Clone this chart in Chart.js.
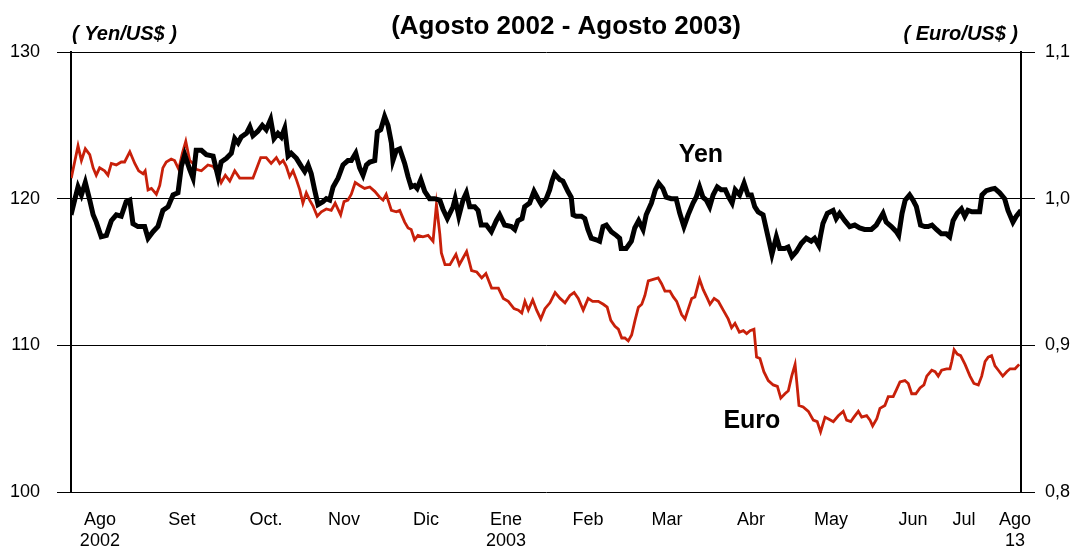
<!DOCTYPE html>
<html>
<head>
<meta charset="utf-8">
<script src="https://cdn.jsdelivr.net/npm/chart.js@4.4.1/dist/chart.umd.min.js"></script>
<style>
  body { margin: 0; background: #fff; }
  canvas { display: block; }
</style>
</head>
<body>
<canvas id="myChart" width="1078" height="550"></canvas>
<script>
// day offsets from 13 Aug 2002
const titleText = "(Agosto 2002 - Agosto 2003)";
const tickDays = [11.1, 42.6, 74.9, 104.9, 136.4, 167.1, 198.6, 229.0, 261.3, 292.0, 323.5, 343.1, 362.7];
const tickLabels = [["Ago", "2002"], "Set", "Oct.", "Nov", "Dic", ["Ene", "2003"], "Feb", "Mar", "Abr", "May", "Jun", "Jul", ["Ago", "13"]];

// Yen per US$ : [day, value]
const yenSeries = [
  [0,118.9],[1.4,119.9],[2.7,120.8],[4.0,120.25],[5.5,121.1],[7.2,119.9],[8.5,118.9],[9.7,118.4],[11.6,117.4],[13.6,117.5],
  [15.5,118.5],[17.4,118.9],[19.3,118.8],[21.2,119.8],[22.6,119.9],[23.8,118.3],[25.7,118.1],[28.3,118.1],[29.6,117.3],[31.5,117.75],
  [33.4,118.1],[35.3,119.2],[37.3,119.45],[39.2,120.25],[41.1,120.4],[42.4,122.2],[43.7,123.0],[45.6,122.0],[46.9,121.4],[48.1,123.3],
  [50.1,123.3],[52.0,123.0],[54.6,122.9],[56.5,121.5],[57.7,122.5],[59.7,122.75],[61.6,123.1],[62.9,124.1],[64.2,123.8],[65.4,124.2],
  [67.4,124.45],[68.7,124.9],[69.9,124.3],[71.8,124.6],[73.5,125.0],[75.0,124.7],[76.7,125.4],[78.0,124.1],[79.5,124.45],[80.8,124.2],
  [82.1,124.8],[83.4,122.9],[84.6,123.1],[86.6,122.75],[88.5,122.2],[89.8,121.85],[91.1,122.3],[92.3,121.7],[93.6,120.6],[94.9,119.6],
  [96.8,119.8],[98.1,120.0],[99.4,119.9],[100.7,120.8],[102.6,121.4],[104.5,122.3],[106.4,122.6],[107.7,122.6],[109.4,123.1],[110.9,122.1],
  [112.2,121.6],[113.5,122.3],[114.8,122.5],[116.7,122.6],[117.7,124.55],[119.0,124.7],[120.5,125.6],[121.8,125.0],[123.1,123.8],[123.7,122.6],
  [125.0,123.3],[126.3,123.4],[128.2,122.4],[129.5,121.5],[130.7,120.8],[132.0,120.9],[133.0,120.7],[134.4,121.3],[135.9,120.5],[137.8,120.0],
  [139.7,120.0],[141.7,119.9],[142.9,119.3],[144.6,118.65],[146.8,119.45],[147.6,120.0],[149.0,118.8],[150.6,119.9],[151.9,120.4],[153.2,119.45],
  [155.1,119.45],[156.4,119.2],[157.6,118.2],[159.6,118.2],[161.5,117.75],[163.4,118.5],[164.7,118.9],[166.6,118.2],[169.2,118.1],[170.5,117.9],
  [171.7,118.5],[173.3,118.65],[174.3,119.45],[176.2,119.7],[177.9,120.5],[179.4,120.0],[180.7,119.6],[182.6,120.0],[183.9,120.6],[184.8,121.2],
  [185.8,121.7],[187.8,121.3],[189.0,121.2],[190.9,120.5],[192.2,120.1],[192.9,118.9],[194.1,118.8],[196.1,118.8],[197.4,118.65],[198.6,117.9],
  [199.9,117.3],[201.8,117.2],[203.1,117.1],[204.4,118.1],[205.7,118.2],[207.6,117.75],[209.5,117.5],[210.8,117.3],[211.4,116.6],[213.3,116.6],
  [215.3,117.1],[216.6,118.0],[218.1,118.5],[219.8,117.9],[221.0,118.9],[223.0,119.7],[224.5,120.6],[225.8,121.05],[227.4,120.7],[228.7,120.1],
  [230.6,120.0],[232.5,120.0],[233.9,119.0],[235.5,118.1],[237.1,118.9],[239.0,119.7],[240.2,120.1],[241.5,120.8],[242.8,120.1],[244.1,119.9],
  [245.4,119.45],[246.7,120.25],[248.3,120.8],[249.8,120.6],[251.4,120.6],[252.7,120.1],[254.0,119.7],[255.2,120.6],[256.9,120.25],[258.6,121.05],
  [260.1,120.25],[261.4,120.25],[262.7,119.45],[264.0,119.1],[265.9,118.9],[267.8,117.4],[269.3,116.2],[271.0,117.4],[272.3,116.6],[274.2,116.6],
  [275.5,116.7],[277.0,116.05],[278.7,116.4],[280.6,116.95],[282.5,117.3],[284.4,117.1],[285.7,117.3],[287.3,116.8],[288.0,117.5],[288.9,118.3],
  [290.6,119.0],[292.8,119.2],[294.0,118.65],[295.3,119.0],[297.3,118.5],[299.2,118.1],[301.1,118.2],[303.0,118.0],[304.9,117.9],[307.5,117.9],
  [309.4,118.2],[312.0,119.0],[313.2,118.4],[315.2,118.1],[317.1,117.75],[318.0,117.5],[319.3,119.0],[320.5,119.9],[322.2,120.25],[323.5,119.9],
  [324.8,119.45],[326.4,118.2],[328.0,118.1],[329.3,118.1],[330.8,118.2],[332.5,117.9],[334.4,117.6],[336.3,117.6],[337.6,117.4],[338.9,118.5],
  [340.5,119.0],[342.1,119.3],[343.4,118.8],[344.6,119.2],[346.2,119.1],[347.8,119.1],[349.1,119.1],[350.0,120.25],[351.7,120.55],[353.6,120.65],
  [354.9,120.7],[356.8,120.4],[358.7,120.0],[360.0,119.2],[361.9,118.4],[363.2,118.8],[365.0,119.2]
];

// Euro per US$ : [day, value]
const euroSeries = [
  [0.1,1.014],[1.4,1.025],[2.7,1.036],[4.0,1.026],[5.5,1.034],[7.2,1.030],[8.5,1.021],[9.7,1.016],[11.0,1.021],[12.9,1.019],
  [14.2,1.016],[15.5,1.024],[17.4,1.023],[19.3,1.025],[20.6,1.025],[22.6,1.032],[24.5,1.024],[26.0,1.019],[27.7,1.017],[28.5,1.019],
  [29.6,1.006],[30.9,1.007],[32.8,1.003],[34.1,1.009],[35.3,1.021],[36.6,1.025],[38.5,1.027],[39.8,1.026],[41.4,1.020],[42.8,1.031],
  [44.1,1.039],[45.6,1.026],[46.9,1.024],[48.1,1.020],[50.1,1.019],[52.6,1.023],[54.6,1.022],[56.5,1.017],[57.7,1.011],[59.3,1.016],
  [61.0,1.012],[62.9,1.019],[64.8,1.014],[67.4,1.014],[69.9,1.014],[71.2,1.020],[72.9,1.028],[75.0,1.028],[76.9,1.024],[78.9,1.028],
  [80.2,1.024],[81.5,1.026],[82.7,1.022],[84.0,1.015],[85.3,1.019],[86.6,1.013],[87.9,1.006],[89.1,0.997],[90.4,1.004],[91.7,0.999],
  [93.0,0.995],[94.6,0.988],[96.2,0.991],[98.1,0.993],[100.0,0.992],[101.5,0.997],[103.6,0.989],[104.9,0.998],[106.4,0.999],[107.7,1.003],
  [109.2,1.011],[110.9,1.009],[112.8,1.007],[114.8,1.008],[116.7,1.005],[118.6,1.001],[119.9,0.999],[121.1,1.003],[123.1,0.992],[125.0,0.991],
  [126.3,0.992],[128.2,0.984],[129.5,0.980],[130.7,0.979],[132.0,0.972],[133.3,0.975],[135.2,0.974],[137.2,0.975],[139.1,0.971],[140.4,0.996],
  [141.7,0.976],[142.3,0.963],[143.7,0.955],[145.6,0.955],[147.9,0.962],[149.2,0.955],[152.0,0.964],[153.9,0.951],[155.9,0.950],[157.8,0.946],
  [159.4,0.949],[161.6,0.939],[164.2,0.939],[166.1,0.932],[168.0,0.930],[170.2,0.925],[171.9,0.924],[173.2,0.922],[174.4,0.930],[175.7,0.924],
  [177.4,0.931],[178.9,0.924],[180.5,0.918],[182.1,0.925],[184.0,0.929],[186.0,0.936],[187.9,0.932],[189.8,0.929],[191.7,0.934],[193.3,0.936],
  [194.9,0.932],[196.8,0.924],[198.7,0.932],[200.4,0.930],[202.6,0.930],[204.5,0.928],[206.0,0.926],[207.4,0.917],[209.0,0.913],[210.3,0.911],
  [211.6,0.905],[212.8,0.905],[214.1,0.903],[215.4,0.907],[216.7,0.917],[218.0,0.926],[219.3,0.928],[220.5,0.934],[221.8,0.944],[223.7,0.945],
  [225.6,0.946],[226.9,0.942],[228.2,0.937],[230.1,0.937],[231.4,0.933],[232.7,0.930],[234.6,0.921],[235.9,0.918],[237.2,0.925],[238.5,0.932],
  [239.7,0.933],[241.5,0.945],[242.9,0.938],[244.5,0.932],[245.5,0.928],[247.1,0.932],[248.7,0.930],[250.6,0.924],[252.5,0.918],[253.8,0.912],
  [255.1,0.915],[256.8,0.909],[258.3,0.910],[259.6,0.908],[260.9,0.910],[262.4,0.911],[263.4,0.892],[264.7,0.891],[266.2,0.882],[267.9,0.876],
  [269.8,0.873],[271.4,0.872],[272.7,0.864],[274.3,0.867],[275.6,0.869],[276.9,0.879],[278.2,0.887],[278.9,0.874],[279.7,0.859],[281.3,0.858],
  [283.3,0.855],[285.2,0.849],[286.7,0.848],[288.0,0.841],[289.7,0.851],[290.9,0.850],[292.9,0.848],[294.8,0.852],[296.7,0.855],[298.0,0.849],
  [299.6,0.848],[300.8,0.851],[302.5,0.855],[303.8,0.851],[305.7,0.852],[307.0,0.849],[308.0,0.845],[309.6,0.850],[310.8,0.857],[312.7,0.859],
  [314.0,0.865],[315.9,0.865],[317.2,0.870],[318.5,0.875],[320.4,0.876],[321.7,0.874],[323.0,0.867],[324.6,0.867],[326.2,0.871],[327.7,0.873],
  [328.8,0.879],[330.7,0.883],[332.0,0.882],[333.2,0.879],[334.5,0.883],[336.4,0.884],[337.7,0.884],[338.4,0.889],[339.3,0.897],[340.5,0.894],
  [341.8,0.893],[343.5,0.887],[345.4,0.879],[346.9,0.874],[348.6,0.873],[349.9,0.879],[351.2,0.889],[352.4,0.892],[353.7,0.893],[355.0,0.886],
  [356.3,0.883],[358.0,0.879],[359.5,0.882],[360.8,0.884],[362.7,0.884],[364.3,0.887]
];

const fontName = "'Liberation Sans', Arial, sans-serif";
Chart.defaults.font.family = fontName;
Chart.defaults.color = "#000";

// title, unit captions and series names
const textPlugin = {
  id: "texts",
  afterDraw(chart) {
    const c = chart.ctx;
    const xs = chart.scales.x, ys = chart.scales.y;
    c.save();
    c.fillStyle = "#000";
    c.textBaseline = "alphabetic";
    c.font = "bold 26px " + fontName;
    c.textAlign = "center";
    c.fillText(titleText, 566, 34);
    c.font = "italic bold 20px " + fontName;
    c.textAlign = "left";
    c.fillText("( Yen/US$ )", 72, 40);
    c.textAlign = "right";
    c.fillText("( Euro/US$ )", 1018, 40);
    c.font = "bold 25px " + fontName;
    c.textAlign = "center";
    c.fillText("Yen", xs.getPixelForValue(242), ys.getPixelForValue(122.5));
    c.fillText("Euro", xs.getPixelForValue(261.6), ys.getPixelForValue(104.33));
    c.restore();
  }
};

const ctx = document.getElementById("myChart");

new Chart(ctx, {
  type: "line",
  data: {
    datasets: [
      {
        label: "Yen",
        data: yenSeries.map(p => ({ x: p[0], y: p[1] })),
        yAxisID: "y",
        borderColor: "#000",
        borderWidth: 5,
        pointRadius: 0,
        tension: 0,
      },
      {
        label: "Euro",
        data: euroSeries.map(p => ({ x: p[0], y: p[1] })),
        yAxisID: "y2",
        borderColor: "#c8200a",
        borderWidth: 2.8,
        pointRadius: 0,
        tension: 0,
      },
    ],
  },
  options: {
    responsive: false,
    animation: false,
    layout: { padding: { top: 52, left: 0, right: 0, bottom: 0 } },
    plugins: {
      legend: { display: false },
      tooltip: { enabled: false },
    },
    scales: {
      x: {
        type: "linear",
        min: 0,
        max: 365,
        grid: { display: false, drawTicks: false },
        border: { display: false },
        afterBuildTicks: s => { s.ticks = tickDays.map(v => ({ value: v })); },
        afterFit: s => { s.height = 58; },
        ticks: {
          autoSkip: false,
          maxRotation: 0,
          padding: 17,
          font: { size: 18 },
          callback: (v, i) => tickLabels[i],
        },
      },
      y: {
        position: "left",
        min: 100,
        max: 130,
        afterFit: s => { s.width = 71; },
        ticks: { stepSize: 10, padding: 17, font: { size: 18 } },
        grid: { color: "#000", lineWidth: 1, tickLength: 14 },
        border: { color: "#000", width: 2 },
      },
      y2: {
        position: "right",
        min: 0.8,
        max: 1.1,
        afterFit: s => { s.width = 57; },
        ticks: {
          stepSize: 0.1,
          padding: 10,
          font: { size: 18 },
          callback: v => v.toFixed(1).replace(".", ","),
        },
        grid: { drawOnChartArea: false, color: "#000", lineWidth: 1, tickLength: 14 },
        border: { color: "#000", width: 2 },
      },
    },
  },
  plugins: [textPlugin],
});
</script>
</body>
</html>
